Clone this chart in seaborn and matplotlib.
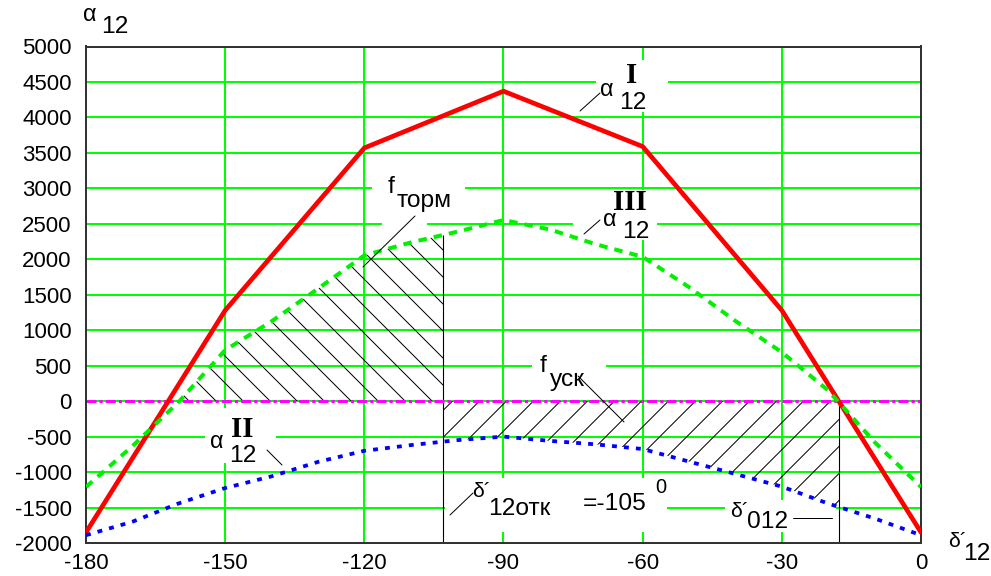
import numpy as np
import matplotlib
matplotlib.use("Agg")
import matplotlib.pyplot as plt
from matplotlib.patches import Rectangle
from matplotlib.lines import Line2D
from matplotlib.collections import LineCollection
from matplotlib.transforms import IdentityTransform
import seaborn as sns

W, H, DPI = 991, 576, 160

# ------------------------------ data

delta_I = [-180, -150, -120, -90, -60, -30, 0]
alpha_I = [-1850, 1280, 3570, 4370, 3590, 1280, -1850]

delta = [-180, -170, -160, -150, -140, -130, -120, -110, -100, -90,
         -80, -70, -60, -50, -40, -30, -20, -10, 0]
alpha_III = [-1210, -635, -10, 720, 1125, 1585, 2055, 2237, 2388, 2553,
             2420, 2210, 2035, 1607, 1130, 690, 150, -577, -1210]
alpha_II = [-1890, -1700, -1441, -1225, -1060, -857, -700, -620, -550, -500,
            -560, -610, -675, -852, -1027, -1205, -1444, -1654, -1890]

delta_otk = -103.0   # drawn position of the "-105" boundary
delta_012 = -17.6

x_ticks = list(range(-180, 1, 30))
y_ticks = list(range(-2000, 5001, 500))

# ------------------------------ style

GRID = "#00ff00"
RED = "#ff0000"
GREEN = "#00f000"
BLUE = "#0000ff"
MAGENTA = "#ff00ff"
HATCH_STEP = 27  # px between hatch lines, measured horizontally

sns.set_style("white")
plt.rcParams["font.family"] = ["Liberation Sans", "DejaVu Sans"]
plt.rcParams["axes.unicode_minus"] = False
plt.rcParams["lines.scale_dashes"] = False

fig = plt.figure(figsize=(W / DPI, H / DPI), dpi=DPI)
ax = fig.add_axes([86 / W, 1 - 543 / H, (921 - 86) / W, (543 - 46.5) / H])


def fx(x):
    return x / W


def fy(y):
    return 1 - y / H


def txt(x, y, s, size=11, **kw):
    fig.text(fx(x), fy(y), s, fontsize=size, ha="left", va="baseline",
             color="black", **kw)


def roman(x, y, s):
    txt(x, y, s, size=13, family=["Liberation Serif", "DejaVu Serif"],
        weight="bold")


def leader(x0, y0, x1, y1):
    fig.add_artist(Line2D([fx(x0), fx(x1)], [fy(y0), fy(y1)],
                          color="black", lw=0.45))


def blank(x0, y0, x1, y1):
    ax.add_patch(Rectangle((fx(x0), fy(y1)), fx(x1) - fx(x0), fy(y0) - fy(y1),
                           transform=fig.transFigure, facecolor="white",
                           edgecolor="none", zorder=1))


def hatch(poly, direction):
    # diagonal lines over the whole axes, clipped to the filled area
    bb = ax.bbox
    span = bb.width + bb.height
    segs = []
    for c in np.arange(-span, span, HATCH_STEP):
        if direction == "/":
            segs.append([(bb.x0, bb.y0 + c), (bb.x1, bb.y0 + c + bb.width)])
        else:
            segs.append([(bb.x0, bb.y1 + c), (bb.x1, bb.y1 + c - bb.width)])
    lc = LineCollection(segs, colors="black", linewidths=0.45,
                        transform=IdentityTransform(), zorder=1.2)
    ax.add_collection(lc, autolim=False)
    lc.set_clip_path(poly.get_paths()[0], ax.transData)


ax.set_xlim(-180, 0)
ax.set_ylim(-2000, 5000)

# ------------------------------ hatched areas

d = np.array(delta, dtype=float)
a3 = np.array(alpha_III, dtype=float)
a2 = np.array(alpha_II, dtype=float)

xs_t = np.concatenate([d[d < delta_otk], [delta_otk]])
ys_t = np.maximum(np.interp(xs_t, d, a3), 0)
f_torm = ax.fill_between(xs_t, 0, ys_t, facecolor="none", edgecolor="none",
                         linewidth=0)
hatch(f_torm, "\\")

xs_u = np.concatenate([[delta_otk], d[(d > delta_otk) & (d < delta_012)], [delta_012]])
ys_u = np.interp(xs_u, d, a2)
f_usk = ax.fill_between(xs_u, ys_u, 0, facecolor="none", edgecolor="none",
                        linewidth=0)
hatch(f_usk, "/")

ax.vlines(delta_otk, -2000, np.interp(delta_otk, d, a3), color="black",
          lw=0.5, zorder=1.3)
ax.vlines(delta_012, -2000, 0, color="black", lw=0.5, zorder=1.3)

# ------------------------------ curves

ax.axhline(0, color=MAGENTA, lw=1.35, linestyle=(0, (4.5, 1.4, 1.4, 1.4)),
           zorder=2)
sns.lineplot(x=delta_I, y=alpha_I, ax=ax, color=RED, lw=2.1, zorder=3)
sns.lineplot(x=delta, y=alpha_III, ax=ax, color=GREEN, lw=1.8,
             linestyle=(0, (3.8, 3.2)), zorder=3)
sns.lineplot(x=delta, y=alpha_II, ax=ax, color=BLUE, lw=1.7,
             linestyle=(0, (2.2, 3.2)), zorder=3)

ax.set_xlim(-180, 0)
ax.set_ylim(-2000, 5000)
ax.set_xticks(x_ticks)
ax.set_yticks(y_ticks)
ax.set_xlabel("")
ax.set_ylabel("")
ax.set_axisbelow(True)
ax.grid(True, color=GRID, lw=0.9)
ax.tick_params(axis="both", length=0, labelsize=10, colors="black")
ax.tick_params(axis="x", pad=4.5)
ax.tick_params(axis="y", pad=6.5)
for sp in ax.spines.values():
    sp.set_visible(True)
    sp.set_color("#333333")
    sp.set_linewidth(0.9)

# ------------------------------ white boxes behind labels

blank(596, 60, 668, 112)
blank(573, 190, 657, 240)
blank(205, 408, 276, 463)
blank(372, 172, 465, 212)
blank(382, 212, 427, 226)
blank(532, 350, 606, 392)
blank(445, 478, 667, 532)
blank(725, 500, 836, 532)

# ------------------------------ labels

ALPHA = 10.5

# axis names
txt(83, 21, "α", size=ALPHA)
txt(101, 33, "12")
txt(948, 547, "δ´", size=9.5)
txt(963, 560, "12")

# alpha I
txt(600, 96, "α", size=ALPHA)
txt(619, 109, "12")
roman(626, 83, "I")
leader(580, 111, 600, 93)

# alpha III
txt(603, 226, "α", size=ALPHA)
txt(622, 238, "12")
roman(613, 210, "III")
leader(584, 234, 600, 220)

# alpha II
txt(210, 448, "α", size=ALPHA)
txt(229, 462, "12")
roman(231, 437, "II")
leader(267, 450, 282, 465)

# f torm
txt(388, 193, "f")
txt(397, 207, "торм")
leader(415, 216, 363, 267)

# f usk
txt(540, 372, "f")
txt(550, 386, "уск")
leader(578, 376, 624, 422)

# delta otk
txt(472, 497, "δ´", size=9.5)
txt(488, 515, "12отк")
txt(583, 510, "=-105")
txt(655, 493, "0", size=9)
leader(450, 515, 473, 493)

# delta 012
txt(730, 517, "δ´", size=9.5)
txt(747, 528, "012")
leader(793, 518, 832, 518)

fig.savefig("out.png", dpi=DPI)
